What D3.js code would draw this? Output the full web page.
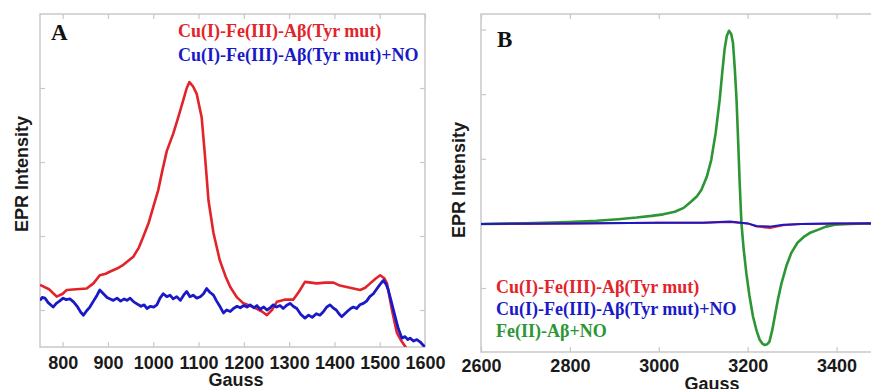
<!DOCTYPE html>
<html>
<head>
<meta charset="utf-8">
<script src="https://cdn.jsdelivr.net/npm/d3@7"></script>
<style>
  body { margin: 0; background: #fff; }
  .tick-label text { font-family: "Liberation Sans", Arial, sans-serif; font-weight: bold; font-size: 18px; fill: #1a1a1a; }
  .frame { fill: none; stroke: #c9c9c9; stroke-width: 1.5; }
  .inner line { stroke: #c9c9c9; stroke-width: 1.2; }
  .legend { font-family: "Liberation Serif", "Times New Roman", serif; font-weight: bold; font-size: 18px; }
  .axis-title { font-family: "Liberation Sans", Arial, sans-serif; font-weight: bold; font-size: 18px; fill: #1a1a1a; }
  .panel-id { font-family: "Liberation Serif", "Times New Roman", serif; font-weight: bold; font-size: 23px; fill: #111; }
</style>
</head>
<body>
<div class="chart"></div>
<script>
// panel A: Gauss vs intensity (arbitrary units)
const redA = [
  [750, 1.34], [770, 1.28], [787, 1.18], [800, 1.22], [809, 1.27], [830, 1.28], [853, 1.29],
  [868, 1.36], [882, 1.47], [895, 1.49], [905, 1.52], [920, 1.56], [934, 1.61], [956, 1.72],
  [968, 1.84], [978, 1.99], [990, 2.18], [1000, 2.39], [1011, 2.62], [1020, 2.88], [1030, 3.15],
  [1044, 3.38], [1055, 3.6], [1066, 3.83], [1074, 4.0], [1080, 4.08], [1088, 4.02], [1096, 3.92],
  [1107, 3.6], [1114, 3.1], [1122, 2.48], [1133, 2.04], [1147, 1.67], [1160, 1.45], [1170, 1.31],
  [1185, 1.17], [1199, 1.09], [1221, 1.04], [1240, 0.98], [1251, 0.93], [1262, 1.0], [1273, 1.11],
  [1290, 1.14], [1309, 1.14], [1322, 1.25], [1335, 1.38], [1348, 1.37], [1361, 1.36], [1380, 1.37],
  [1398, 1.37], [1412, 1.33], [1427, 1.31], [1442, 1.29], [1457, 1.27], [1468, 1.3], [1479, 1.36],
  [1490, 1.42], [1501, 1.47], [1510, 1.43], [1516, 1.36], [1527, 1.0], [1538, 0.69], [1548, 0.58],
  [1556, 0.51], [1562, 0.45]
];
const blueA = [
  [750, 1.13], [755, 1.17], [761, 1.16], [768, 1.1], [779, 1.04], [786, 1.09], [793, 1.12],
  [801, 1.16], [808, 1.14], [816, 1.15], [824, 1.11], [832, 1.05], [840, 0.97], [846, 0.93],
  [853, 0.99], [860, 1.04], [868, 1.12], [876, 1.2], [882, 1.27], [890, 1.22], [898, 1.17],
  [905, 1.15], [912, 1.13], [920, 1.16], [928, 1.12], [936, 1.15], [942, 1.13], [949, 1.16],
  [957, 1.11], [965, 1.08], [973, 1.05], [980, 1.07], [986, 1.02], [994, 1.05], [1001, 1.04],
  [1008, 1.07], [1015, 1.16], [1022, 1.22], [1030, 1.18], [1037, 1.2], [1044, 1.15], [1052, 1.18],
  [1060, 1.13], [1067, 1.2], [1074, 1.25], [1081, 1.18], [1088, 1.2], [1096, 1.16], [1104, 1.18],
  [1111, 1.22], [1118, 1.29], [1125, 1.24], [1133, 1.2], [1140, 1.12], [1148, 1.04], [1155, 0.96],
  [1162, 1.0], [1170, 0.98], [1177, 1.02], [1185, 1.05], [1192, 1.03], [1200, 1.06], [1207, 1.04],
  [1214, 1.07], [1222, 1.03], [1229, 1.06], [1236, 1.01], [1244, 1.04], [1251, 1.0], [1258, 1.03],
  [1265, 1.07], [1272, 1.04], [1280, 1.06], [1287, 1.02], [1294, 1.06], [1302, 1.09], [1309, 1.05],
  [1317, 1.02], [1326, 0.94], [1335, 0.89], [1343, 0.93], [1351, 0.9], [1360, 0.95], [1368, 0.93],
  [1376, 0.98], [1383, 1.04], [1390, 1.07], [1397, 1.03], [1404, 1.0], [1410, 0.95], [1416, 0.91],
  [1423, 0.95], [1430, 0.99], [1436, 1.02], [1442, 1.04], [1449, 1.02], [1456, 1.07], [1464, 1.09],
  [1471, 1.12], [1478, 1.18], [1486, 1.22], [1493, 1.28], [1500, 1.34], [1508, 1.4], [1514, 1.35],
  [1519, 1.27], [1527, 1.08], [1534, 0.91], [1541, 0.75], [1549, 0.62], [1556, 0.64], [1562, 0.6],
  [1567, 0.62], [1575, 0.58], [1582, 0.6], [1589, 0.57], [1595, 0.53], [1600, 0.5]
];

// panel B
const greenB = [
  [2600, -0.01], [2700, 0.0], [2796, 0.02], [2860, 0.04], [2909, 0.065], [2950, 0.09],
  [2984, 0.116], [3010, 0.14], [3036, 0.18], [3056, 0.24], [3073, 0.34], [3086, 0.42],
  [3096, 0.52], [3108, 0.72], [3118, 0.98], [3128, 1.4], [3137, 1.91], [3143, 2.35],
  [3148, 2.69], [3153, 2.9], [3158, 2.98], [3163, 2.93], [3167, 2.79], [3171, 2.4],
  [3175, 1.91], [3179, 1.2], [3182, 0.63], [3186, 0.0], [3191, -0.4], [3197, -0.77],
  [3204, -1.12], [3212, -1.44], [3220, -1.66], [3227, -1.8], [3233, -1.86], [3238, -1.88],
  [3244, -1.87], [3249, -1.83], [3255, -1.66], [3261, -1.44], [3268, -1.18], [3276, -0.93],
  [3287, -0.66], [3298, -0.46], [3312, -0.3], [3328, -0.2], [3342, -0.14], [3358, -0.1],
  [3376, -0.05], [3396, -0.02], [3430, -0.01], [3470, 0.0], [3500, 0.0]
];
const redB = [
  [2600, -0.01], [2800, 0.0], [3000, 0.01], [3100, 0.01], [3160, 0.02], [3200, 0.0],
  [3220, -0.05], [3250, -0.07], [3280, -0.03], [3320, -0.01], [3400, 0.0], [3500, 0.0]
];
const blueB = [
  [2600, -0.01], [2800, 0.0], [3000, 0.01], [3100, 0.01], [3160, 0.03], [3200, 0.0],
  [3220, -0.04], [3250, -0.05], [3280, -0.02], [3320, -0.01], [3400, 0.0], [3500, 0.0]
];

const ticksA = [800, 900, 1000, 1100, 1200, 1300, 1400, 1500, 1600];
const ticksB = [2600, 2800, 3000, 3200, 3400];
const legendA = ['Cu(I)-Fe(III)-A\u03b2(Tyr mut)', 'Cu(I)-Fe(III)-A\u03b2(Tyr mut)+NO'];
const legendB = ['Cu(I)-Fe(III)-A\u03b2(Tyr mut)', 'Cu(I)-Fe(III)-A\u03b2(Tyr mut)+NO', 'Fe(II)-A\u03b2+NO'];

const RED = '#e3232a', BLUE = '#1919c8', GREEN = '#2c9634';

const svg = d3.select('.chart').append('svg')
  .attr('width', 871)
  .attr('height', 389);

function panel(cfg) {
  const x = d3.scaleLinear().domain(cfg.xDomain).range([cfg.left, cfg.right]);
  const y = d3.scaleLinear().domain(cfg.yDomain).range([cfg.bottom, cfg.top]);

  const clipId = 'clip-' + cfg.id;
  svg.append('clipPath').attr('id', clipId)
    .append('rect')
    .attr('x', cfg.left).attr('y', cfg.top)
    .attr('width', cfg.right - cfg.left).attr('height', cfg.bottom - cfg.top);

  // frame
  svg.append('rect').attr('class', 'frame')
    .attr('x', cfg.left).attr('y', cfg.top)
    .attr('width', cfg.right - cfg.left).attr('height', cfg.bottom - cfg.top);

  // inner ticks on all sides
  const inner = [
    [d3.axisBottom(x).tickValues(cfg.xTicks), `translate(0,${cfg.bottom})`],
    [d3.axisTop(x).tickValues(cfg.xTicks), `translate(0,${cfg.top})`],
    [d3.axisLeft(y).tickValues(cfg.yTicks), `translate(${cfg.left},0)`],
    [d3.axisRight(y).tickValues(cfg.yTicks), `translate(${cfg.right},0)`]
  ];
  inner.forEach(([ax, tr]) => {
    svg.append('g').attr('class', 'inner').attr('transform', tr)
      .call(ax.tickSize(-5).tickFormat(''))
      .call(g => g.select('.domain').remove());
  });

  // tick labels
  svg.append('g').attr('class', 'tick-label')
    .attr('transform', `translate(0,${cfg.bottom})`)
    .call(d3.axisBottom(x).tickValues(cfg.xTicks).tickSize(0).tickPadding(cfg.pad).tickFormat(d3.format('d')))
    .call(g => g.select('.domain').remove());

  const line = d3.line().x(d => x(d[0])).y(d => y(d[1])).curve(d3.curveLinear);
  const plot = svg.append('g').attr('clip-path', `url(#${clipId})`);
  cfg.series.forEach(s => {
    plot.append('path')
      .datum(s.data)
      .attr('fill', 'none')
      .attr('stroke', s.color)
      .attr('stroke-width', s.width)
      .attr('stroke-linejoin', 'round')
      .attr('d', line);
  });

  // titles
  svg.append('text').attr('class', 'axis-title')
    .attr('text-anchor', 'middle')
    .attr('x', cfg.gaussX).attr('y', cfg.gaussY)
    .text('Gauss');
  svg.append('text').attr('class', 'axis-title')
    .attr('text-anchor', 'middle')
    .attr('transform', `translate(${cfg.eprX},${cfg.eprY}) rotate(-90)`)
    .text('EPR Intensity');
  svg.append('text').attr('class', 'panel-id')
    .attr('x', cfg.idX).attr('y', cfg.idY)
    .text(cfg.id);

  cfg.legend.forEach((t, i) => {
    svg.append('text').attr('class', 'legend')
      .attr('x', cfg.legX).attr('y', cfg.legY + i * cfg.legStep)
      .attr('fill', cfg.legColors[i])
      .text(t);
  });
}

panel({
  id: 'A', left: 40, right: 425, top: 14, bottom: 347, pad: 9,
  xDomain: [750, 1600], yDomain: [0.5, 5], xTicks: ticksA, yTicks: [1, 2, 3, 4],
  series: [
    { data: redA, color: RED, width: 2.6 },
    { data: blueA, color: BLUE, width: 2.8 }
  ],
  gaussX: 236, gaussY: 386, eprX: 28, eprY: 174,
  idX: 51, idY: 40,
  legend: legendA, legColors: [RED, BLUE], legX: 178, legY: 37, legStep: 24
});

panel({
  id: 'B', left: 481, right: 881, top: 14, bottom: 352, pad: 7,
  xDomain: [2600, 3500], yDomain: [-1.99, 3.24], xTicks: ticksB, yTicks: [-1, 0, 1, 2, 3],
  series: [
    { data: greenB, color: GREEN, width: 2.6 },
    { data: redB, color: RED, width: 2 },
    { data: blueB, color: BLUE, width: 2 }
  ],
  gaussX: 712, gaussY: 390, eprX: 465, eprY: 180,
  idX: 497, idY: 47,
  legend: legendB, legColors: [RED, BLUE, GREEN], legX: 496, legY: 293, legStep: 22
});
</script>
</body>
</html>
